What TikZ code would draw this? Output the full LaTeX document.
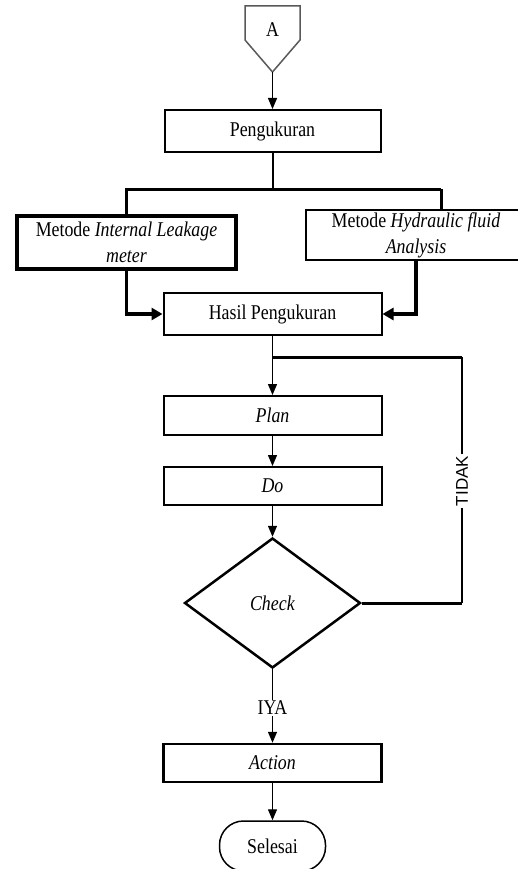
\documentclass[tikz,border=0pt]{standalone}
\usepackage{fontspec}
\setmainfont[FakeStretch=0.85]{Liberation Serif}
\newfontfamily\labelsans{Liberation Sans}
\usetikzlibrary{shapes.geometric,arrows.meta}

\tikzset{
  txt/.style={font=\fontsize{21}{26}\selectfont},
  flowbox/.style={draw=black, line width=2pt, minimum width=218pt, minimum height=40pt,
    inner sep=0pt, txt, align=center},
  arr/.style={line width=1.3pt, -{Triangle[length=11pt,width=9pt]}},
  thickarr/.style={line width=3.5pt, -{Triangle[length=11pt,width=12pt]}},
  lbl/.style={fill=white, inner sep=1.5pt}
}

\begin{document}
\begin{tikzpicture}[x=1pt, y=-1pt]
  \useasboundingbox (0,0) rectangle (518,869);
  \clip (0,0) rectangle (518,869);

  % off-page connector A
  \draw[black!65, line width=1.5pt] (245,6) -- (300,6) -- (300,40) -- (272.5,72) -- (245,40) -- cycle;
  \node[txt] (a) at (272.5,30) {A};
  \coordinate (atip) at (272.5,72);

  % process boxes
  \node[flowbox, minimum width=216pt, minimum height=42pt] (peng) at (272.5,131) {Pengukuran};
  \node[flowbox, line width=4pt, minimum width=219pt, minimum height=53pt] (left) at (126.5,242.5)
    {Metode \textit{Internal Leakage}\\\textit{meter}};
  \node[flowbox, line width=2.3pt, minimum width=220pt, minimum height=50pt] (right) at (416,235)
    {Metode \textit{Hydraulic fluid}\\\textit{Analysis}};
  \node[flowbox, minimum height=42pt] (hasil) at (272.5,314) {Hasil Pengukuran};
  \node[flowbox, minimum height=39pt] (plan) at (272.5,415.5) {\textit{Plan}};
  \node[flowbox, minimum height=38pt] (do) at (272.5,486) {\textit{Do}};
  \node[draw=black, line width=2.5pt, diamond, minimum width=176pt, minimum height=130pt,
        inner sep=0pt, txt] (check) at (272.5,603) {\textit{Check}};
  \node[flowbox, line width=2.5pt, minimum height=38pt] (action) at (272.5,763) {\textit{Action}};
  \node[draw=black, line width=1.5pt, rounded corners=24pt, minimum width=106pt, minimum height=50pt,
        inner sep=0pt, txt] (selesai) at (272.5,846) {Selesai};

  % connectors
  \draw[arr] (atip) -- (peng.north);

  \coordinate (bus) at (272.5,189);
  \coordinate (busr) at (441,189);
  \draw[line width=2pt] (peng.south) -- (bus);
  \draw[line width=3pt] (left.north) |- (busr);
  \draw[line width=3pt] (busr) -- (busr |- right.north);

  \draw[thickarr] (left.south) |- (hasil.west);
  \draw[thickarr] (right.south) |- (hasil.east);

  \coordinate (join) at (272.5,357);
  \coordinate (loopt) at (462,357);
  \coordinate (loopb) at (462,603);
  \draw[line width=1.3pt] (hasil.south) -- (join);
  \draw[arr] (join) -- (plan.north);
  \draw[arr] (plan.south) -- (do.north);
  \draw[arr] (do.south) -- (check.north);

  \draw[line width=3pt] (check.east) -- (loopb);
  \draw[line width=2pt] (loopb) -- (loopt);
  \draw[line width=3pt] (loopt) -- (join);
  \node[lbl, rotate=90, font=\labelsans\fontsize{17}{20}\selectfont] (tidak) at (462,481) {TIDAK};

  \draw[arr] (check.south) -- (action.north);
  \node[lbl, txt] (iya) at (272.5,708) {IYA};

  \draw[arr] (action.south) -- (selesai.north);
\end{tikzpicture}
\end{document}
